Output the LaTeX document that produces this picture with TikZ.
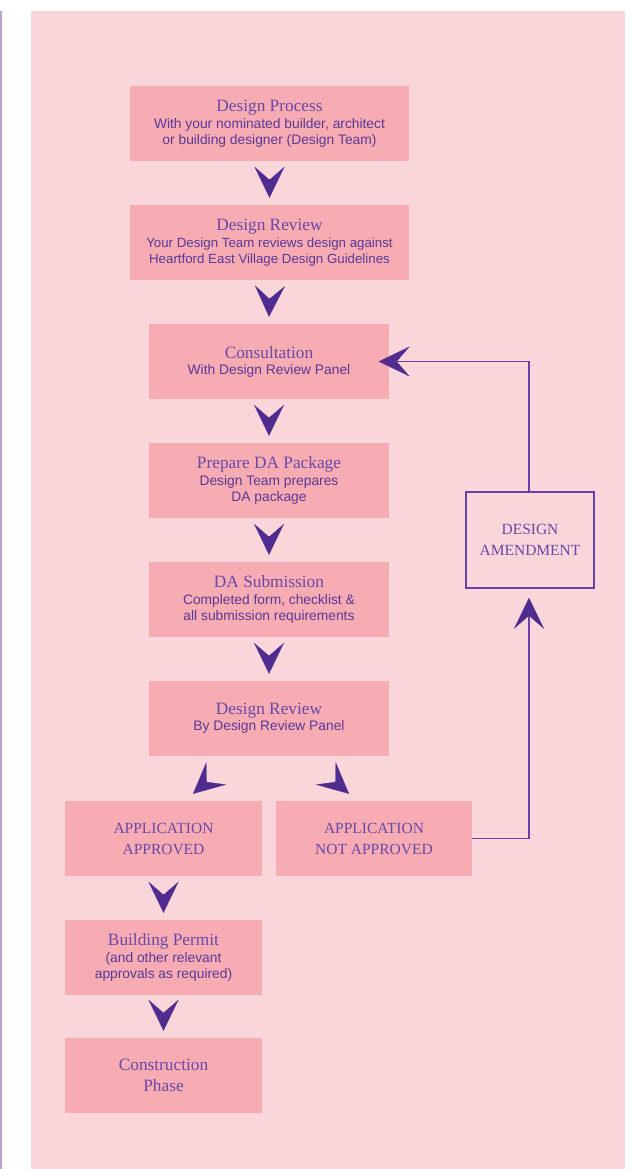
\documentclass[tikz,border=0pt]{standalone}
\usepackage{fontspec}
\setmainfont{Liberation Serif}
\setsansfont{Liberation Sans}
\usetikzlibrary{arrows.meta,calc}
\definecolor{bgpink}{HTML}{FAD6DA}
\definecolor{boxpink}{HTML}{F6ACB2}
\definecolor{arrpurple}{HTML}{502C90}
\definecolor{txtpurple}{HTML}{5A3898}
\definecolor{ttlpurple}{HTML}{6A48A8}
\definecolor{linepurple}{HTML}{6A40A6}
\definecolor{sidepurple}{HTML}{B7A3D2}
\newcommand{\ttl}[1]{{\rmfamily\color{ttlpurple}\fontsize{17.3}{17.3}\selectfont #1}}
\tikzset{
  boxbase/.style={fill=boxpink, minimum height=75pt, inner sep=0pt, align=center, text=txtpurple},
  box/.style={boxbase, font=\sffamily\fontsize{13.8}{16}\selectfont},
  capbox/.style={boxbase, text=ttlpurple, font=\rmfamily\fontsize{15.5}{21}\selectfont},
  ttlbox/.style={boxbase, text=ttlpurple, font=\rmfamily\fontsize{17.3}{21}\selectfont},
  wbig/.style={minimum width=279pt},
  wmid/.style={minimum width=240pt},
  wsmall/.style={minimum width=197pt},
  flowtip/.style={draw=arrpurple, line width=0.3pt, -{Stealth[length=31pt,width=30pt,inset=13pt,fill=arrpurple]}},
  loopline/.style={draw=linepurple, line width=1.5pt, -{Stealth[length=31pt,width=30pt,inset=13pt,line width=0.3pt,color=arrpurple,fill=arrpurple]}},
}
\begin{document}
\begin{tikzpicture}[x=1pt,y=-1pt]
\useasboundingbox (0,0) rectangle (633,1169);
\fill[bgpink] (31,11) rectangle (625,1169);
\fill[sidepurple] (0,11) rectangle (2,1169);

\node[box,wbig] (d1) at (269.5,123.5) {\ttl{Design Process}\\[1pt]With your nominated builder, architect\\or building designer (Design Team)};
\node[boxbase,wbig,font=\sffamily\fontsize{13.3}{15.5}\selectfont] (d2) at (269.5,242.5) {\ttl{Design Review}\\[1.5pt]Your Design Team reviews design against\\Heartford East Village Design Guidelines};
\node[box,wmid] (d3) at (269,361.5) {\ttl{Consultation}\\With Design Review Panel};
\node[box,wmid] (d4) at (269,480.5) {\ttl{Prepare DA Package}\\[1pt]Design Team prepares\\DA package};
\node[box,wmid] (d5) at (269,599.5) {\ttl{DA Submission}\\[1pt]Completed form, checklist \&\\all submission requirements};
\node[box,wmid] (d6) at (269,718.5) {\ttl{Design Review}\\By Design Review Panel};
\node[capbox,wsmall] (d7) at (163.5,838.5) {APPLICATION\\APPROVED};
\node[capbox,minimum width=196pt] (d8) at (374,838.5) {APPLICATION\\NOT APPROVED};
\node[box,wsmall] (d9) at (163.5,957.5) {\ttl{Building Permit}\\[1pt](and other relevant\\approvals as required)};
\node[ttlbox,wsmall] (d10) at (163.5,1075.5) {Construction\\Phase};
\node[capbox,fill=none,draw=linepurple,line width=1.5pt,minimum width=128pt,minimum height=96pt] (da) at (530,540) {DESIGN\\AMENDMENT};

\draw[flowtip] ($(d1.south)+(0,18)$) -- ($(d2.north)+(0,-7)$);
\draw[flowtip] ($(d2.south)+(0,18)$) -- ($(d3.north)+(0,-7)$);
\draw[flowtip] ($(d3.south)+(0,18)$) -- ($(d4.north)+(0,-7)$);
\draw[flowtip] ($(d4.south)+(0,18)$) -- ($(d5.north)+(0,-7)$);
\draw[flowtip] ($(d5.south)+(0,18)$) -- ($(d6.north)+(0,-7)$);
\draw[flowtip] ($(d6.south)+(-62.7,25.9)$) -- ($(d7.north)+(29.5,-7)$);
\draw[flowtip] ($(d6.south)+(66.7,25.9)$) -- ($(d8.north)+(-25,-7)$);
\draw[flowtip] ($(d7.south)+(0,18)$) -- ($(d9.north)+(0,-7)$);
\draw[flowtip] ($(d9.south)+(0,18)$) -- ($(d10.north)+(0,-7)$);

\draw[loopline] (d8.east) -| ($(da.south)+(-1,9)$);
\draw[loopline] ($(da.north)+(-1,0)$) |- ($(d3.east)+(-10.5,0)$);
\end{tikzpicture}
\end{document}
